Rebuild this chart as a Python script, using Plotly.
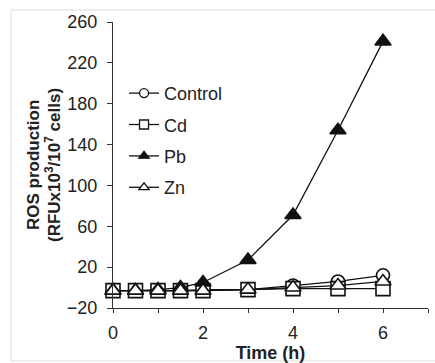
import plotly.graph_objects as go

time_h = [0, 0.5, 1, 1.5, 2, 3, 4, 5, 6]
control = [-3, -3, -3, -3, -2, -2, 2, 6, 12]
cd = [-3, -3, -3, -3, -3, -2, -1, -1, -1]
pb = [-3, -3, -2, 0, 5, 27, 71, 154, 241]
zn = [-3, -3, -3, -3, -3, -2, 0, 2, 6]

series_names = ["Control", "Cd", "Pb", "Zn"]
series_values = [control, cd, pb, zn]
symbols = ["circle", "square", "triangle-up", "triangle-up"]
fills = ["white", "white", "#111", "white"]
sizes = [13, 14, 14, 14]

x_tickvals = [0, 1, 2, 3, 4, 5, 6, 7]
x_ticktext = ["0", "", "2", "", "4", "", "6", ""]

FONT = "Liberation Sans, Arial, sans-serif"
fig = go.Figure()

for name, vals, sym, fill, sz in zip(series_names, series_values, symbols, fills, sizes):
    fig.add_trace(go.Scatter(
        x=time_h, y=vals, mode="lines+markers", name=name, showlegend=False,
        line=dict(color="#111", width=1.3),
        marker=dict(symbol=sym, size=sz, color=fill, line=dict(color="#111", width=1.6)),
        cliponaxis=False,
    ))
    fig.add_trace(go.Scatter(
        x=[None], y=[None], mode="lines+markers", name=name, legendgroup=name,
        line=dict(color="#111", width=1.3),
        marker=dict(symbol=sym, size=9, color=fill, line=dict(color="#111", width=1.3)),
    ))

fig.update_layout(
    width=435, height=363,
    margin=dict(l=113, r=7, t=22, b=55),
    paper_bgcolor="white", plot_bgcolor="white",
    font=dict(family=FONT, size=18, color="#222"),
    legend=dict(x=0.035, y=0.815, xanchor="left", yanchor="top", bgcolor="rgba(0,0,0,0)",
                font=dict(size=18, color="#222"), tracegroupgap=5, itemwidth=30),
    xaxis=dict(range=[0, 7], tickvals=x_tickvals, ticktext=x_ticktext, showgrid=False,
               zeroline=False, showline=True, linecolor="#333", linewidth=1.2,
               ticks="outside", ticklen=4, tickcolor="#333", ticklabelstandoff=4,
               title=dict(text="<b>Time (h)</b>", font=dict(size=18, color="#222"), standoff=1)),
    yaxis=dict(range=[-20, 260], tick0=-20, dtick=40, showgrid=False, zeroline=False,
               showline=True, linecolor="#333", linewidth=1.2,
               ticks="outside", ticklen=5, tickcolor="#333", ticklabelstandoff=6),
    annotations=[
        dict(text="<b>ROS production</b>", textangle=-90, xref="paper", yref="paper",
             x=(33 - 113) / 315, y=0.5, xanchor="center", yanchor="middle",
             showarrow=False, font=dict(size=17, color="#222")),
        dict(text="<b>(RFUx10<sup>3</sup>/10<sup>7</sup> cells)</b>", textangle=-90,
             xref="paper", yref="paper", x=(53 - 113) / 315, y=0.5,
             xanchor="center", yanchor="middle", showarrow=False,
             font=dict(size=17, color="#222")),
    ],
    shapes=[
        dict(type="rect", xref="paper", yref="paper",
             x0=(11 - 113) / 315, x1=(440 - 113) / 315,
             y0=(308 - 361) / 286, y1=(308 - 10) / 286,
             line=dict(color="#dcdcdc", width=1), fillcolor="rgba(0,0,0,0)", layer="below"),
    ],
)

fig.write_html("out.html")
